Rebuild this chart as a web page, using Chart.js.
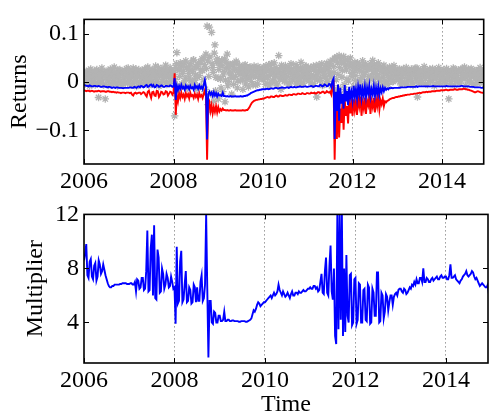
<!DOCTYPE html>
<html><head><meta charset="utf-8">
<script src="https://cdn.jsdelivr.net/npm/chart.js@4/dist/chart.umd.min.js"></script>
<style>
html,body{margin:0;padding:0;background:#fff;width:489px;height:411px;overflow:hidden;position:relative}
#top{position:absolute;left:0;top:0;width:489px;height:195px}
#bot{position:absolute;left:0;top:195px;width:489px;height:225px}
</style></head><body>
<canvas id="top" width="489" height="195"></canvas>
<canvas id="bot" width="489" height="225"></canvas>
<script>
// ---- data ----
const xTicks = [2006, 2008, 2010, 2012, 2014];
const retTicks = [-0.1, 0, 0.1];
const multTicks = [4, 8, 12];
const lineStart = 2006, lineStep = 0.025;     // sampling of the lines (one row = half a year)
const grayStart = 2006, grayStep = 0.025;     // sampling of the returns
const grayStart2 = 2006.0125;                 // second, interleaved set of returns

const blueVals = [
 -0.006,-0.007,-0.008,-0.008,-0.009,-0.007,-0.008,-0.009,-0.009,-0.008,-0.008,-0.009,-0.009,-0.008,-0.009,-0.010,-0.010,-0.009,-0.009,-0.010,
 -0.010,-0.011,-0.010,-0.010,-0.011,-0.012,-0.011,-0.011,-0.012,-0.011,-0.011,-0.012,-0.012,-0.012,-0.012,-0.013,-0.012,-0.012,-0.012,-0.012,
 -0.012,-0.011,-0.011,-0.012,-0.012,-0.010,-0.011,-0.012,-0.010,-0.009,-0.011,-0.008,-0.009,-0.011,-0.010,-0.007,-0.006,-0.010,-0.009,-0.006,
 -0.005,-0.009,-0.006,-0.011,-0.010,-0.006,-0.007,-0.010,-0.009,-0.007,-0.008,-0.010,-0.010,-0.008,-0.008,-0.009,-0.009,-0.007,-0.008,-0.010,
 -0.009,0.008,-0.037,-0.008,-0.016,-0.008,-0.014,-0.006,-0.013,-0.010,-0.016,-0.007,-0.012,-0.009,-0.015,-0.008,-0.013,-0.011,-0.016,-0.006,
 -0.012,-0.009,-0.014,-0.007,-0.013,-0.010,-0.015,-0.006,0.004,-0.010,-0.119,-0.025,-0.020,-0.026,-0.022,-0.029,-0.021,-0.028,-0.023,-0.030,
 -0.024,-0.028,-0.027,-0.029,-0.022,-0.029,-0.029,-0.030,-0.029,-0.030,-0.030,-0.029,-0.030,-0.030,-0.030,-0.029,-0.030,-0.030,-0.030,-0.030,
 -0.029,-0.030,-0.030,-0.029,-0.029,-0.028,-0.028,-0.026,-0.025,-0.023,-0.022,-0.021,-0.020,-0.019,-0.018,-0.017,-0.017,-0.016,-0.016,-0.015,
 -0.015,-0.015,-0.015,-0.014,-0.014,-0.015,-0.014,-0.013,-0.013,-0.014,-0.013,-0.012,-0.012,-0.013,-0.013,-0.012,-0.012,-0.011,-0.012,-0.012,
 -0.012,-0.011,-0.011,-0.012,-0.011,-0.010,-0.011,-0.011,-0.010,-0.011,-0.011,-0.010,-0.010,-0.009,-0.010,-0.010,-0.010,-0.009,-0.009,-0.010,
 -0.010,-0.009,-0.009,-0.008,-0.009,-0.010,-0.009,-0.008,-0.008,-0.009,-0.009,-0.006,-0.007,-0.009,-0.008,-0.005,-0.006,-0.009,-0.008,-0.004,
 -0.005,-0.010,0.002,0.007,-0.118,-0.020,-0.060,-0.005,-0.080,-0.012,-0.045,-0.025,-0.055,-0.006,-0.040,-0.018,-0.048,-0.010,-0.032,-0.020,
 -0.038,-0.008,-0.030,-0.015,-0.035,-0.010,-0.026,-0.005,-0.033,-0.014,-0.028,-0.009,-0.031,-0.012,-0.024,-0.007,-0.030,-0.015,-0.026,-0.008,
 -0.029,-0.012,-0.025,-0.009,-0.027,-0.013,-0.021,-0.011,-0.019,-0.012,-0.016,-0.013,-0.015,-0.012,-0.013,-0.012,-0.013,-0.012,-0.012,-0.012,
 -0.012,-0.012,-0.012,-0.011,-0.011,-0.011,-0.011,-0.011,-0.011,-0.010,-0.010,-0.010,-0.010,-0.010,-0.010,-0.010,-0.010,-0.009,-0.010,-0.009,
 -0.009,-0.009,-0.009,-0.009,-0.009,-0.009,-0.009,-0.009,-0.009,-0.009,-0.009,-0.009,-0.008,-0.009,-0.009,-0.009,-0.009,-0.009,-0.009,-0.009,
 -0.009,-0.009,-0.009,-0.009,-0.008,-0.009,-0.009,-0.009,-0.009,-0.009,-0.009,-0.009,-0.009,-0.009,-0.009,-0.009,-0.009,-0.008,-0.008,-0.009,
 -0.009,-0.009,-0.009,-0.009,-0.009,-0.010,-0.010,-0.010,-0.010,-0.011,-0.011,-0.011,-0.011,-0.011,-0.011,-0.012,-0.012,-0.011,-0.011,-0.011
];
const redVals = [
 -0.017,-0.018,-0.019,-0.018,-0.018,-0.019,-0.019,-0.018,-0.019,-0.020,-0.019,-0.019,-0.019,-0.018,-0.019,-0.020,-0.019,-0.019,-0.019,-0.020,
 -0.020,-0.019,-0.019,-0.020,-0.020,-0.021,-0.020,-0.021,-0.021,-0.022,-0.021,-0.022,-0.022,-0.023,-0.022,-0.022,-0.022,-0.023,-0.022,-0.022,
 -0.022,-0.023,-0.022,-0.026,-0.028,-0.023,-0.022,-0.024,-0.023,-0.022,-0.022,-0.025,-0.023,-0.021,-0.022,-0.027,-0.030,-0.020,-0.018,-0.026,
 -0.033,-0.021,-0.020,-0.028,-0.029,-0.018,-0.019,-0.031,-0.027,-0.020,-0.021,-0.026,-0.025,-0.019,-0.020,-0.028,-0.024,-0.020,-0.021,-0.026,
 -0.022,0.018,-0.068,-0.028,-0.040,-0.024,-0.033,-0.022,-0.031,-0.026,-0.035,-0.023,-0.030,-0.025,-0.034,-0.022,-0.029,-0.027,-0.033,-0.024,
 -0.031,-0.026,-0.035,-0.023,-0.030,-0.027,-0.033,-0.025,-0.018,-0.030,-0.161,-0.050,-0.042,-0.060,-0.048,-0.065,-0.052,-0.062,-0.050,-0.063,
 -0.052,-0.061,-0.056,-0.059,-0.055,-0.058,-0.058,-0.059,-0.058,-0.059,-0.059,-0.058,-0.059,-0.059,-0.059,-0.058,-0.059,-0.059,-0.059,-0.059,
 -0.059,-0.059,-0.058,-0.059,-0.059,-0.058,-0.058,-0.055,-0.052,-0.047,-0.043,-0.041,-0.039,-0.038,-0.037,-0.037,-0.036,-0.036,-0.035,-0.035,
 -0.034,-0.034,-0.033,-0.032,-0.031,-0.032,-0.032,-0.030,-0.030,-0.031,-0.031,-0.029,-0.028,-0.030,-0.030,-0.028,-0.028,-0.029,-0.029,-0.028,
 -0.027,-0.028,-0.028,-0.026,-0.026,-0.027,-0.027,-0.025,-0.025,-0.026,-0.026,-0.024,-0.024,-0.025,-0.025,-0.023,-0.024,-0.025,-0.025,-0.023,
 -0.023,-0.024,-0.024,-0.022,-0.023,-0.023,-0.022,-0.024,-0.023,-0.021,-0.021,-0.023,-0.022,-0.020,-0.020,-0.023,-0.022,-0.019,-0.021,-0.022,
 -0.020,-0.026,-0.010,0.004,-0.161,-0.045,-0.118,-0.030,-0.115,-0.055,-0.085,-0.040,-0.099,-0.035,-0.070,-0.050,-0.086,-0.033,-0.065,-0.045,
 -0.070,-0.036,-0.058,-0.040,-0.068,-0.033,-0.050,-0.030,-0.070,-0.042,-0.055,-0.032,-0.066,-0.038,-0.048,-0.031,-0.066,-0.040,-0.052,-0.033,
 -0.063,-0.035,-0.050,-0.030,-0.057,-0.038,-0.046,-0.034,-0.050,-0.040,-0.042,-0.039,-0.038,-0.036,-0.035,-0.034,-0.033,-0.033,-0.032,-0.031,
 -0.031,-0.030,-0.030,-0.029,-0.029,-0.028,-0.028,-0.027,-0.027,-0.026,-0.026,-0.026,-0.025,-0.025,-0.025,-0.024,-0.024,-0.024,-0.023,-0.023,
 -0.022,-0.023,-0.022,-0.021,-0.021,-0.021,-0.020,-0.021,-0.020,-0.020,-0.020,-0.019,-0.019,-0.019,-0.019,-0.018,-0.018,-0.018,-0.018,-0.017,
 -0.017,-0.017,-0.017,-0.016,-0.016,-0.017,-0.017,-0.016,-0.016,-0.016,-0.016,-0.015,-0.015,-0.016,-0.016,-0.015,-0.015,-0.015,-0.015,-0.014,
 -0.014,-0.015,-0.015,-0.016,-0.016,-0.017,-0.018,-0.019,-0.020,-0.021,-0.021,-0.020,-0.019,-0.020,-0.021,-0.022,-0.022,-0.023,-0.023,-0.023
];
const multVals = [
 8.6,9.1,9.8,7.5,7.3,8.5,8.7,7.4,7.2,8.2,8.4,7.1,7.4,8.6,8.3,7.6,7.8,8.3,7.9,7.5,
 7.2,6.9,6.7,6.6,6.6,6.7,6.7,6.8,6.8,6.8,6.8,6.8,6.85,6.85,6.9,6.9,6.9,6.9,6.85,6.85,
 6.85,6.9,6.9,6.8,6.8,7.0,6.3,7.2,7.1,6.5,6.6,7.3,7.3,6.4,6.5,7.8,10.8,6.3,6.4,9.5,
 10.5,6.0,11.2,5.8,5.7,9.4,8.8,6.2,6.3,8.0,7.6,6.5,6.8,7.6,7.3,6.6,6.7,7.4,7.0,6.5,
 6.6,3.9,9.6,5.4,5.6,8.5,9.3,5.5,5.7,6.8,7.8,5.5,5.6,6.6,6.4,5.4,5.5,6.8,6.6,5.5,
 6.6,5.6,5.6,7.0,7.5,5.6,5.8,6.8,12.0,6.5,1.4,5.6,5.6,4.0,3.9,4.8,4.7,4.0,4.0,4.5,
 4.5,4.1,4.1,4.2,4.8,4.1,4.1,4.2,4.2,4.1,4.1,4.15,4.15,4.1,4.1,4.1,4.1,4.05,4.05,4.1,
 4.1,4.1,4.1,4.05,4.05,4.1,4.15,4.2,4.3,4.6,4.9,4.8,5.0,5.3,5.5,5.4,5.2,5.3,5.4,5.5,
 5.5,5.6,5.7,5.8,5.9,6.0,5.8,6.0,6.2,6.0,6.1,6.3,6.8,6.4,6.2,6.0,6.3,6.1,5.9,6.0,
 6.2,6.0,5.8,6.1,6.3,6.0,6.0,6.2,6.2,6.1,6.3,6.2,6.2,6.3,6.4,6.3,6.3,6.4,6.5,6.5,
 6.6,6.5,6.5,6.7,6.7,6.5,6.6,6.3,6.4,7.0,7.6,6.2,6.1,7.8,8.8,6.2,6.0,8.2,9.7,6.3,
 5.7,8.0,3.0,2.4,12.0,3.5,12.0,4.2,12.0,3.0,8.0,3.3,9.0,4.5,4.0,7.5,7.6,3.8,4.0,7.2,
 7.3,3.9,4.2,6.9,6.8,4.0,4.0,6.4,6.5,4.2,4.1,6.8,6.6,3.9,4.0,6.5,6.2,4.5,4.5,7.7,
 7.7,4.0,4.1,6.2,6.0,4.3,4.8,6.1,5.9,4.9,5.5,6.0,6.0,5.3,5.9,6.1,6.2,6.0,6.4,6.5,
 6.5,6.3,6.2,6.5,6.4,6.1,6.2,6.4,6.6,6.5,6.8,6.7,7.0,6.8,7.2,6.9,6.9,7.3,7.3,7.0,
 8.0,7.0,7.0,7.3,7.2,7.0,7.0,7.2,7.3,7.1,7.2,7.3,7.4,7.2,7.2,7.4,7.5,7.3,7.3,7.4,
 7.4,7.2,7.2,7.5,8.3,7.3,7.3,7.4,7.5,7.2,7.1,7.0,6.9,7.1,7.2,7.4,7.5,7.6,7.8,7.5,
 7.4,7.5,7.6,7.8,7.7,7.4,7.2,7.3,7.1,6.9,6.7,6.8,6.9,6.8,6.7,6.6,6.6,6.8,6.1,6.5
];
const grayVals = [
 0.010,-0.004,0.022,0.005,0.016,-0.008,0.027,0.012,0.001,0.019,-0.006,0.024,0.008,-0.032,0.014,0.003,0.029,-0.005,0.018,-0.035,
 0.010,0.021,-0.007,0.006,0.025,0.015,-0.002,0.031,0.009,0.020,-0.008,0.013,0.026,0.002,0.017,-0.005,0.023,0.011,0.028,-0.003,
 0.007,0.024,-0.006,0.015,0.029,0.003,0.019,-0.009,0.012,0.026,0.000,0.021,0.010,-0.004,0.027,0.016,0.005,0.031,-0.007,0.018,
 0.009,0.025,-0.002,0.014,0.033,0.006,0.022,-0.008,0.017,0.028,0.002,0.020,0.011,0.035,-0.005,0.024,0.013,0.030,0.004,0.019,
 0.012,-0.070,0.030,0.061,-0.018,0.025,0.040,-0.010,0.018,0.033,0.002,0.044,-0.012,0.027,0.008,0.038,-0.006,0.021,0.046,0.004,
 0.031,-0.015,0.036,0.014,0.042,-0.008,0.024,0.050,-0.020,0.058,0.116,-0.047,0.114,-0.060,0.103,0.030,-0.040,0.077,0.010,0.048,
 -0.035,0.035,0.006,0.045,-0.020,0.022,-0.041,0.042,0.058,0.001,0.031,0.018,-0.025,0.038,0.009,0.026,0.043,-0.012,0.020,0.034,
 0.003,0.028,-0.015,0.015,0.036,0.007,0.024,-0.010,0.030,0.013,0.021,-0.006,0.033,0.011,0.025,-0.004,0.018,0.029,0.008,0.022,
 0.014,0.031,-0.005,0.024,0.009,0.036,-0.008,0.019,0.027,0.003,0.040,0.012,-0.003,0.022,0.055,0.006,-0.015,0.029,0.016,0.001,
 0.034,0.010,0.025,-0.006,0.018,0.038,0.004,0.021,0.011,0.030,-0.004,0.015,0.026,0.007,0.041,0.013,-0.002,0.023,0.032,0.008,
 0.019,0.002,0.028,0.012,-0.005,0.033,0.009,0.022,-0.031,0.015,0.036,0.004,0.025,-0.007,0.017,0.030,0.008,0.039,0.001,0.021,
 0.043,0.011,-0.012,0.032,0.048,-0.020,0.052,0.016,0.055,-0.025,0.040,0.024,0.053,-0.015,0.045,0.006,0.035,-0.028,0.050,0.018,
 0.030,-0.010,0.041,0.014,0.026,-0.018,0.037,0.005,0.022,0.044,-0.006,0.019,0.033,0.002,0.028,-0.012,0.038,0.010,0.045,0.024,
 -0.004,0.032,0.013,0.040,0.007,0.029,-0.008,0.021,0.035,0.003,0.017,0.026,-0.005,0.031,0.011,0.023,0.001,0.034,0.015,0.008,
 0.020,0.004,0.027,-0.006,0.013,0.024,0.001,0.018,0.030,-0.004,0.010,0.022,0.006,0.026,-0.007,0.016,0.029,0.003,-0.031,0.019,
 0.011,0.025,-0.002,0.014,0.032,0.007,0.021,-0.005,0.017,0.027,0.002,0.023,0.012,-0.008,0.026,0.009,0.019,0.030,-0.003,0.015,
 0.024,0.006,0.018,-0.004,0.028,0.011,-0.035,0.021,0.002,0.016,0.029,-0.006,0.013,0.025,0.004,0.020,-0.002,0.027,0.009,0.017,
 0.031,-0.007,0.014,0.023,0.003,0.019,0.028,-0.005,0.012,0.024,0.007,0.021,-0.003,0.016,0.030,0.005,0.022,0.010,-0.006,0.018
];
const grayVals2 = [
 0.004,0.018,-0.002,0.013,0.024,0.007,-0.005,0.020,0.011,0.001,0.016,0.026,-0.003,0.009,0.021,0.005,0.014,-0.006,0.019,0.008,
 0.023,0.002,0.012,0.027,-0.004,0.015,0.006,0.020,-0.001,0.011,0.025,0.004,0.017,-0.006,0.022,0.009,0.001,0.018,0.013,0.029,
 0.003,0.016,0.010,-0.003,0.022,0.008,0.027,0.001,0.014,0.020,-0.005,0.012,0.024,0.006,0.018,-0.002,0.028,0.011,0.004,0.021,
 0.015,-0.004,0.025,0.008,0.019,0.002,0.030,0.013,-0.006,0.022,0.009,0.016,0.027,0.001,0.020,0.011,-0.003,0.024,0.014,0.006,
 0.020,0.005,0.038,-0.008,0.028,0.012,0.034,-0.004,0.022,0.040,0.008,0.030,-0.012,0.018,0.035,0.003,0.026,0.045,-0.002,0.015,
 0.032,0.010,0.040,-0.010,0.025,0.048,0.005,0.036,-0.015,0.028,0.044,0.012,0.052,-0.025,0.038,0.020,0.060,-0.018,0.042,0.008,
 0.026,0.040,-0.012,0.033,0.015,0.048,0.004,0.030,-0.008,0.037,0.020,0.010,0.035,-0.005,0.027,0.012,0.040,0.002,0.024,0.016,
 0.030,0.006,0.022,0.033,-0.004,0.017,0.027,0.009,0.031,0.001,0.020,0.012,0.026,-0.006,0.019,0.032,0.008,0.023,0.014,0.028,
 0.005,0.020,0.033,0.011,-0.003,0.026,0.016,0.038,0.002,0.023,0.013,0.030,-0.006,0.018,0.027,0.008,0.035,0.015,0.021,0.004,
 0.025,0.012,0.031,-0.002,0.019,0.028,0.006,0.022,0.014,0.036,0.001,0.024,0.010,0.030,-0.004,0.017,0.026,0.009,0.033,0.013,
 0.022,0.008,0.030,0.015,-0.003,0.026,0.011,0.034,0.004,0.020,0.029,0.007,0.038,-0.006,0.024,0.013,0.033,0.002,0.028,0.017,
 0.035,-0.008,0.045,0.020,0.050,0.005,0.040,-0.012,0.030,0.048,0.010,0.042,-0.005,0.036,0.025,0.046,0.002,0.032,0.040,0.012,
 0.020,0.036,0.003,0.028,0.040,-0.004,0.024,0.034,0.010,0.030,0.016,0.038,-0.002,0.026,0.012,0.033,0.006,0.029,0.018,0.037,
 0.008,0.027,0.016,0.034,0.001,0.022,0.030,0.010,0.025,-0.003,0.019,0.028,0.006,0.023,0.014,0.031,0.002,0.020,0.026,0.009,
 0.016,0.026,0.002,0.021,0.010,0.028,-0.003,0.017,0.024,0.007,0.020,0.013,0.027,0.000,0.018,0.023,0.008,0.029,0.012,-0.002,
 0.022,0.006,0.025,0.014,0.019,-0.004,0.026,0.010,0.021,0.003,0.017,0.028,0.008,0.023,0.013,-0.001,0.024,0.016,0.005,0.020,
 0.012,0.026,0.003,0.019,0.008,0.024,0.015,-0.003,0.022,0.010,0.027,0.005,0.018,0.013,0.025,0.001,0.021,0.009,0.028,0.014,
 0.006,0.023,0.016,0.027,0.002,0.019,0.011,0.025,-0.004,0.017,0.022,0.008,0.026,0.013,0.003,0.020,0.015,0.024,0.009,0.021
];

// ---- build ----
const lineDates = blueVals.map((_, i) => +(lineStart + lineStep * i).toFixed(4));
const grayDates = grayVals.map((_, i) => +(grayStart + grayStep * i).toFixed(4));
const grayDates2 = grayVals2.map((_, i) => +(grayStart2 + grayStep * i).toFixed(4));
const pts = (xs, ys) => xs.map((x, i) => ({x, y: ys[i]}));

const FONT = "'Liberation Serif', 'Times New Roman', serif";
const F24 = {family: FONT, size: 24, weight: 'normal'};
Chart.defaults.font.family = FONT;
Chart.defaults.font.size = 24;
Chart.defaults.color = '#000';

const frame = {
  id: 'frame',
  afterDatasetsDraw(chart) {
    const {ctx, chartArea: a, scales} = chart;
    ctx.save();
    ctx.strokeStyle = '#000';
    ctx.lineWidth = 1;
    const L = 5;
    ctx.beginPath();
    scales.x.ticks.forEach(t => {
      const p = Math.round(scales.x.getPixelForValue(t.value)) + 0.5;
      ctx.moveTo(p, a.bottom); ctx.lineTo(p, a.bottom - L);
      ctx.moveTo(p, a.top); ctx.lineTo(p, a.top + L);
    });
    scales.y.ticks.forEach(t => {
      const p = Math.round(scales.y.getPixelForValue(t.value)) + 0.5;
      ctx.moveTo(a.left, p); ctx.lineTo(a.left + L, p);
      ctx.moveTo(a.right, p); ctx.lineTo(a.right - L, p);
    });
    ctx.stroke();
    ctx.lineWidth = 1.6;
    ctx.strokeRect(a.left, a.top, a.right - a.left, a.bottom - a.top);
    ctx.restore();
  }
};

function xScale(extra) {
  return Object.assign({
    type: 'linear', position: 'bottom', min: 2006, max: 2014.93,
    afterBuildTicks: s => { s.ticks = xTicks.map(v => ({value: v})); },
    ticks: {padding: 3, maxRotation: 0, autoSkip: false, font: F24, color: '#000',
            callback: v => String(v)},
    grid: {drawTicks: false, lineWidth: 1,
           color: c => (c.tick && c.tick.value === 2006) ? 'rgba(0,0,0,0)' : '#666'},
    border: {display: false, dash: [1, 3]}
  }, extra);
}
const fmt = v => v === 0 ? '0' : (v < 0 ? '\u2212' + String(Math.abs(v)) : String(v));
const lineDs = (ys, color, order) => ({data: pts(lineDates, ys), showLine: true, borderColor: color,
  backgroundColor: color, borderWidth: 1.9, pointRadius: 0, tension: 0, order});
const grayDs = (xs, ys) => ({data: pts(xs, ys), showLine: false, pointStyle: 'star', pointRadius: 3.8,
  borderColor: '#b3b3b3', backgroundColor: '#b3b3b3', pointBorderWidth: 1.3, order: 2});

new Chart(document.getElementById('top'), {
  type: 'scatter',
  data: {datasets: [
    lineDs(blueVals, '#0000ff', 0),
    lineDs(redVals, '#ff0000', 1),
    grayDs(grayDates, grayVals),
    grayDs(grayDates2, grayVals2)
  ]},
  options: {
    responsive: false, animation: false, devicePixelRatio: 1,
    layout: {padding: {top: 8, right: 1, left: 0, bottom: 0}},
    plugins: {legend: {display: false}, tooltip: {enabled: false}},
    scales: {
      x: xScale({afterFit: s => { s.height = 31; }}),
      y: {
        min: -0.17, max: 0.13,
        afterBuildTicks: s => { s.ticks = retTicks.map(v => ({value: v})); },
        afterFit: s => { s.width = 84; },
        ticks: {padding: 5, font: F24, color: '#000', callback: v => fmt(v)},
        grid: {display: false, drawTicks: false},
        border: {display: false},
        title: {display: true, text: 'Returns', font: F24, color: '#000', padding: {top: 5, bottom: 0}}
      }
    }
  },
  plugins: [frame]
});

new Chart(document.getElementById('bot'), {
  type: 'scatter',
  data: {datasets: [lineDs(multVals, '#0000ff', 0)]},
  options: {
    responsive: false, animation: false, devicePixelRatio: 1,
    layout: {padding: {top: 15, right: 1, left: 0, bottom: 0}},
    plugins: {legend: {display: false}, tooltip: {enabled: false}},
    scales: {
      x: xScale({afterFit: s => { s.height = 57; },
                 title: {display: true, text: 'Time', font: F24, color: '#000', padding: {top: 0, bottom: 1}}}),
      y: {
        min: 1, max: 12,
        afterBuildTicks: s => { s.ticks = multTicks.map(v => ({value: v})); },
        afterFit: s => { s.width = 84; },
        ticks: {padding: 5, font: F24, color: '#000', callback: v => String(v)},
        grid: {display: false, drawTicks: false},
        border: {display: false},
        title: {display: true, text: 'Multiplier', font: F24, color: '#000', padding: {top: 21, bottom: 0}}
      }
    }
  },
  plugins: [frame]
});
</script>
</body></html>
